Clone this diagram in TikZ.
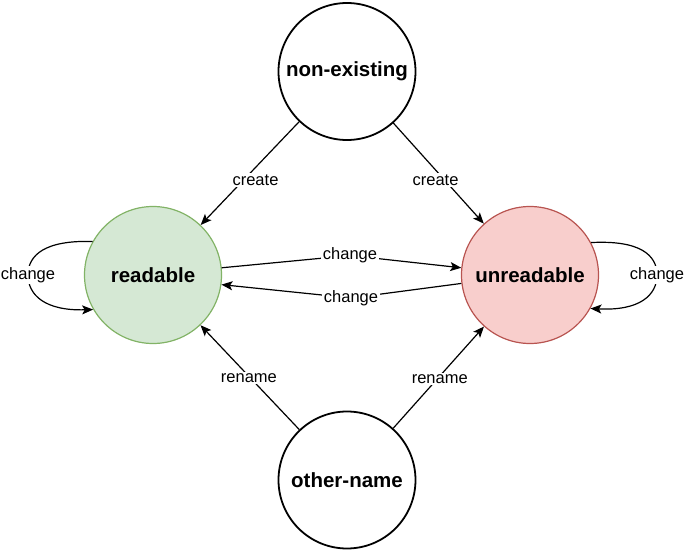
\documentclass[tikz,border=0pt]{standalone}
\usepackage{fontspec}
\setmainfont{Liberation Sans}
\usetikzlibrary{arrows.meta}
\definecolor{rdfill}{HTML}{D5E8D4}
\definecolor{rddraw}{HTML}{82B366}
\definecolor{urfill}{HTML}{F8CECC}
\definecolor{urdraw}{HTML}{B85450}
\begin{document}
\begin{tikzpicture}[x=1pt,y=-1pt,
  state/.style={circle,draw=black,line width=1.8pt,minimum size=137pt,inner sep=0pt,
    font=\fontsize{20.5}{24}\selectfont\bfseries},
  greenstate/.style={state,fill=rdfill,draw=rddraw,line width=1.2pt},
  redstate/.style={state,fill=urfill,draw=urdraw,line width=1.2pt},
  lbl/.style={fill=white,inner sep=1.5pt,font=\fontsize{16.5}{19}\selectfont},
  arr/.style={line width=1.2pt,-{Stealth[length=11pt,width=9pt,inset=2.5pt]}}]
\useasboundingbox (0,0) rectangle (685,551);
\node[state] (ne) at (347,71.5) {non-existing};
\node[greenstate] (rd) at (153,275) {readable};
\node[redstate] (ur) at (530,275) {unreadable};
\node[state] (on) at (347,480) {other-name};
\draw[arr] (ne) -- node[lbl,pos=0.565,xshift=12pt]{create} (rd);
\draw[arr] (ne) -- node[lbl,pos=0.566,xshift=-9pt]{create} (ur);
\draw[arr] (on) -- node[lbl,pos=0.49,xshift=-2pt]{rename} (rd);
\draw[arr] (on) -- node[lbl,pos=0.48,xshift=3pt]{rename} (ur);
\coordinate (w1) at (350,255.5);
\coordinate (w2) at (351,298);
\draw[arr] (rd.6.6) -- (w1) node[lbl]{change} -- (ur.174);
\draw[arr] (ur.187.5) -- (w2) node[lbl]{change} -- (rd.-8);
\coordinate (l1) at (28,275);
\coordinate (l2) at (657,275);
\draw[arr] (rd.151) .. controls (45,240) and (28,255) .. (l1) node[lbl]{change}
  .. controls (28,295) and (45,311) .. (rd.210);
\draw[arr] (ur.28) .. controls (640,240) and (657,255) .. (l2) node[lbl]{change}
  .. controls (657,295) and (640,311) .. (ur.-29);
\end{tikzpicture}
\end{document}
